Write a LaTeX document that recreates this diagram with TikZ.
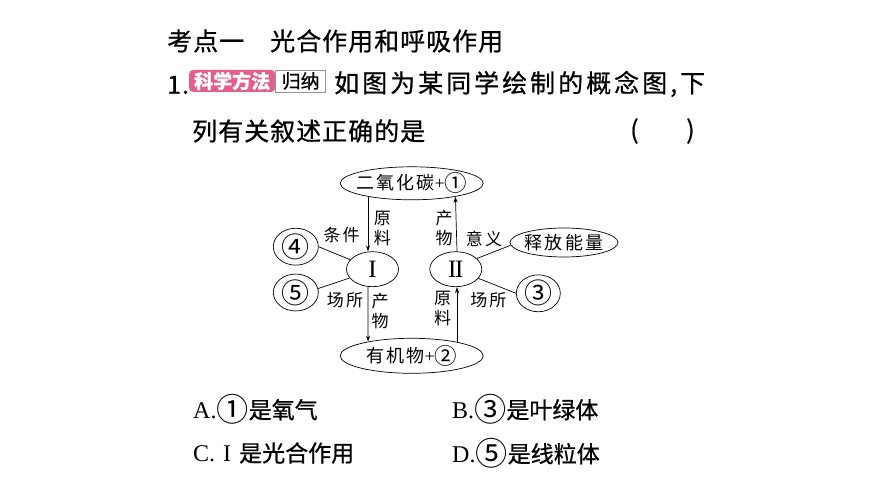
\documentclass[tikz,border=0pt]{standalone}
\usepackage{fontspec}
\usepackage{graphicx}
\setmainfont{Liberation Serif}
\newfontfamily\hei[FakeBold=0.7]{Noto Sans CJK SC}
\newfontfamily\heisp[FakeBold=0.7, LetterSpace=4]{Noto Sans CJK SC}
\newfontfamily\heiwide[FakeBold=0.7, LetterSpace=12]{Noto Sans CJK SC}
\newfontfamily\song[LetterSpace=12]{Noto Sans CJK SC}
\newfontfamily\circfont{Noto Sans CJK SC}
\usepackage{tikz}
\usetikzlibrary{shapes.geometric, arrows.meta}

\definecolor{tagpink}{RGB}{228,94,140}
\definecolor{boxgray}{RGB}{150,150,150}

% text of an ellipse, kept out of its size
\newcommand\cpt[1]{\makebox[0pt]{#1}}
% circled numbers are small in the CJK font
\newcommand\cnum[2][1.4]{\raisebox{-0.12em}{\scalebox{#1}{\circfont #2}}}

\tikzset{
  concept/.style={draw, ellipse, line width=0.7pt, inner sep=0pt,
    font=\song\fontsize{18}{20}\selectfont},
  small concept/.style={concept, minimum width=45, minimum height=27,
    font=\circfont\fontsize{28}{28}\selectfont},
  word/.style={inner sep=0pt, align=center, font=\song\fontsize{17}{20}\selectfont},
  flow/.style={-{Stealth[length=6pt, width=4pt]}, line width=0.7pt},
  line/.style={line width=0.7pt},
  plain/.style={anchor=west, inner sep=0pt, font=\heisp\fontsize{25}{25}\selectfont},
  choice/.style={anchor=west, inner sep=0pt, font=\hei\fontsize{23}{23}\selectfont},
}

\begin{document}
\begin{tikzpicture}[x=1pt, y=-1pt]
    \useasboundingbox[fill=white] (0,0) rectangle (870,489);

    % heading and question
    \node[plain] (title) at (167,41) {考点一\hspace{26pt}光合作用和呼吸作用};
    \node[plain] (num) at (167,85) {1.};
    \node[anchor=west, fill=tagpink, text=white, rounded corners=4pt,
          minimum width=86, minimum height=22, inner sep=0pt,
          font=\hei\bfseries\fontsize{19}{19}\selectfont] (tag) at (189,81) {科学方法};
    \node[anchor=west, draw=boxgray, line width=0.5pt, minimum width=50,
          minimum height=22, inner sep=0pt,
          font=\hei\fontsize{19}{19}\selectfont] (method) at (tag.east) {归纳};
    \node[plain, font=\heiwide\fontsize{25}{25}\selectfont] (ask) at (334,84) {如图为某同学绘制的概念图,下};
    \node[plain] (ask2) at (192,131) {列有关叙述正确的是};
    \node[plain] (bra) at (630,131) {(};
    \node[plain] (ket) at (686,131) {)};

    % concept map
    \node[concept, minimum width=143, minimum height=33] (co2) at (411.7,183.3) {\cpt{二氧化碳{\rmfamily+}\cnum[1.25]{①}}};
    \node[concept, minimum width=143, minimum height=35] (org) at (411.7,355.8) {\cpt{有机物{\rmfamily+}\cnum[1.25]{②}}};
    \node[concept, minimum width=52, minimum height=35] (I) at (372.5,269.2) {\cpt{\rmfamily\fontsize{25}{25}\selectfont I}};
    \node[concept, minimum width=52, minimum height=35] (II) at (455.8,269.2) {\cpt{\rmfamily\fontsize{25}{25}\selectfont I\kern-1.5pt I}};
    \node[small concept] (n4) at (295.8,246.7) {\cpt{④}};
    \node[small concept] (n5) at (295.8,292.5) {\cpt{⑤}};
    \node[small concept, minimum width=44] (n3) at (538.3,293.3) {\cpt{③}};
    \node[concept, minimum width=108, minimum height=29] (energy) at (564,242.5) {\cpt{释放能量}};

    \draw[flow] (co2.-163.6) -- (co2.-163.6 |- I.north);
    \draw[flow] (co2.-163.6 |- I.south) -- (org.162.8);
    \draw[flow] (org.17.8) -- (org.17.8 |- II.south);
    \draw[flow] (org.17.8 |- II.north) -- (co2.-17.1);

    \draw[line] (n4.east) -- (I.157);
    \draw[line] (n5.10) -- (I.201);
    \draw[line] (II.27) -- (energy.183);
    \draw[line] (II.-22) -- (n3.west);

    \node[word] (raw1) at (382.3,228.3) {原\\料};
    \node[word] (cond) at (341.7,235) {条件};
    \node[word] (prod1) at (444,228.3) {产\\物};
    \node[word] (mean) at (484,239) {意义};
    \node[word] (site1) at (345,300) {场所};
    \node[word] (prod2) at (380,310.7) {产\\物};
    \node[word] (raw2) at (442.7,308.3) {原\\料};
    \node[word] (site2) at (488.3,300) {场所};

    % choices
    \node[choice] (optA) at (193,409) {{\rmfamily\fontsize{24}{24}\selectfont A.}\cnum{①}是氧气};
    \node[choice] (optB) at (452,409) {{\rmfamily\fontsize{24}{24}\selectfont B.}\cnum{③}是叶绿体};
    \node[choice] (optC) at (193,453) {{\rmfamily\fontsize{24}{24}\selectfont C.\hspace{8pt}I\hspace{8pt}}是光合作用};
    \node[choice] (optD) at (452,453) {{\rmfamily\fontsize{24}{24}\selectfont D.}\cnum{⑤}是线粒体};
\end{tikzpicture}
\end{document}
